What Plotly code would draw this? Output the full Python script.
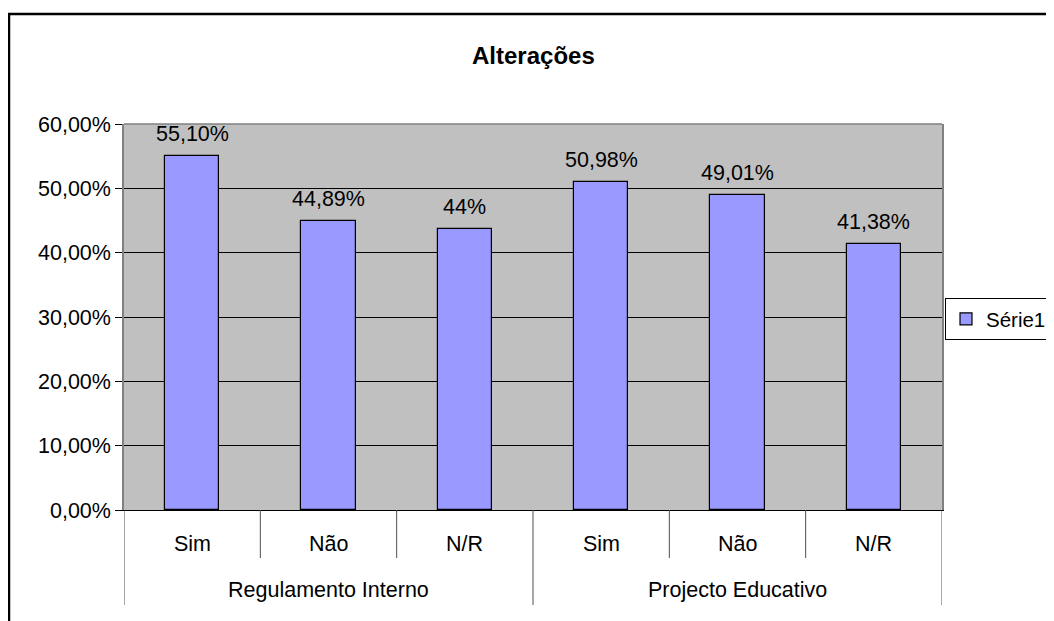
import plotly.graph_objects as go

groups = ["Regulamento Interno", "Projecto Educativo"]
categories = ["Sim", "Não", "N/R", "Sim", "Não", "N/R"]
values = [0.5510, 0.4489, 0.4374, 0.5098, 0.4901, 0.4138]
labels = ["55,10%", "44,89%", "44%", "50,98%", "49,01%", "41,38%"]
series_name = "Série1"
title = "Alterações"
yticks = [0, 0.1, 0.2, 0.3, 0.4, 0.5, 0.6]

FONT = "Liberation Sans, Arial, sans-serif"
OFF = 8  # page body margin
W, H = 1054 - OFF, 621 - OFF
L, T = 124 - OFF, 124 - OFF
pw, ph = 818, 386
R, B = W - L - pw, H - T - ph
Y0 = T + ph + OFF  # page y of 0%
FS = 21.5

xs = [i + 0.5 for i in range(len(categories))]

fig = go.Figure()
fig.add_trace(go.Bar(
    x=xs, y=values, name=series_name, width=0.4,
    marker=dict(color="#9999FF", line=dict(color="black", width=1.2)),
    showlegend=True,
))

annotations = []
for x, v, lab in zip(xs, values, labels):
    annotations.append(dict(x=x, y=v, xref="x", yref="y", text=lab, showarrow=False,
                            yanchor="bottom", yshift=8, font=dict(size=FS, color="black", family=FONT)))
for x, c in zip(xs, categories):
    annotations.append(dict(x=x, y=-(544 - Y0) / ph, xref="x", yref="paper", text=c, showarrow=False,
                            yanchor="middle", font=dict(size=FS, color="black", family=FONT)))
n_per = len(categories) // len(groups)
for gi, g in enumerate(groups):
    annotations.append(dict(x=gi * n_per + n_per / 2, y=-(590 - Y0) / ph, xref="x", yref="paper", text=g,
                            showarrow=False, yanchor="middle", font=dict(size=FS, color="black", family=FONT)))
annotations.append(dict(x=(533 - OFF - L) / pw, y=(Y0 - 55) / ph, xref="paper", yref="paper",
                        text="<b>" + title + "</b>", showarrow=False, xanchor="center", yanchor="middle",
                        font=dict(size=24, color="black", family=FONT)))

shapes = []
for i in range(len(categories) + 1):
    is_group = (i % n_per == 0)
    shapes.append(dict(type="line", xref="x", yref="paper", x0=i, x1=i, y0=0,
                       y1=-(605 - Y0) / ph if is_group else -(558 - Y0) / ph,
                       line=dict(color="#505050", width=1)))
shapes.append(dict(type="line", xref="paper", yref="paper", x0=0, x1=1, y0=1, y1=1,
                   line=dict(color="#808080", width=1.5), layer="above"))
shapes.append(dict(type="rect", xref="paper", yref="paper",
                   x0=(9 - OFF - L) / pw, x1=(1070 - OFF - L) / pw, y0=-(650 - Y0) / ph, y1=(Y0 - 14) / ph,
                   line=dict(color="black", width=2.5), fillcolor="rgba(0,0,0,0)"))

fig.update_layout(
    width=W, height=H,
    margin=dict(l=L, r=R, t=T, b=B, autoexpand=False),
    paper_bgcolor="white", plot_bgcolor="#C0C0C0",
    separators=",.",
    font=dict(family=FONT, size=FS, color="black"),
    showlegend=True,
    legend=dict(xref="container", yref="container",
                x=(945 - OFF) / W, y=1 - (298 - OFF) / H, xanchor="left", yanchor="top",
                bordercolor="black", borderwidth=1, bgcolor="white",
                font=dict(size=20.5, family=FONT, color="black"),
                itemwidth=30, tracegroupgap=0),
    annotations=annotations,
    shapes=shapes,
    bargap=0,
)
fig.update_xaxes(range=[0, len(categories)], showticklabels=False, showgrid=False, zeroline=False,
                 showline=True, linecolor="black", linewidth=1, ticks="", fixedrange=True)
fig.update_yaxes(range=[0, 0.6], tickvals=yticks, tickformat=".2%", showgrid=True, gridcolor="black",
                 gridwidth=1, zeroline=False, showline=True, linecolor="#808080", linewidth=1.5, mirror=True,
                 ticks="outside", ticklen=7, tickcolor="black", tickfont=dict(size=FS, family=FONT),
                 fixedrange=True)

fig.write_html("out.html")
